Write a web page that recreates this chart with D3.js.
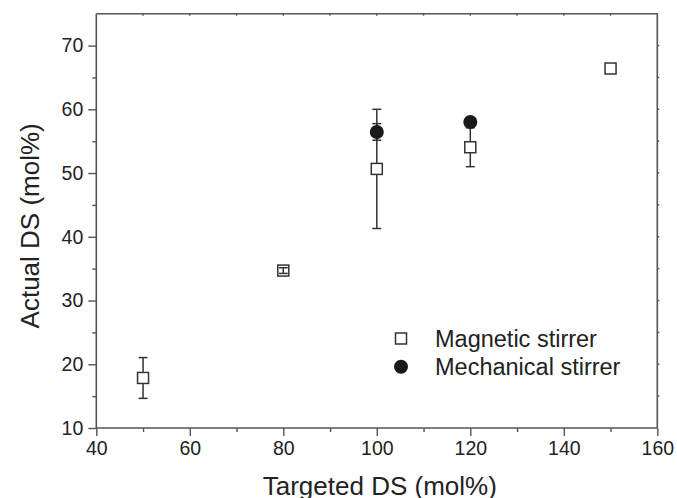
<!DOCTYPE html>
<html>
<head>
<meta charset="utf-8">
<script src="https://cdn.jsdelivr.net/npm/d3@7/dist/d3.min.js"></script>
<style>
  html, body { margin: 0; padding: 0; background: #fff; }
  svg { display: block; font-family: "Liberation Sans", Arial, sans-serif; }
</style>
</head>
<body>
<svg id="chart" width="677" height="498"></svg>
<script>
// Targeted vs. actual degree of substitution for two stirring methods
const magneticTargeted = [50, 80, 100, 120, 150];
const magneticActual   = [17.85, 34.7, 50.65, 54.05, 66.4];
const magneticError    = [3.2, 0.45, 9.35, 3.05, 0];

const mechanicalTargeted = [100, 120];
const mechanicalActual   = [56.45, 58.0];
const mechanicalError    = [1.3, 0];

const xTicks = [40, 60, 80, 100, 120, 140, 160];
const yTicks = [10, 20, 30, 40, 50, 60, 70];
const legendLabels = ["Magnetic stirrer", "Mechanical stirrer"];

const svg = d3.select("#chart");
const plotLeft = 96.3, plotRight = 657.3, plotTop = 13.7, plotBottom = 428;
const axisColor = "#555";
const inkColor = "#222";

const x = d3.scaleLinear().domain([40, 160]).range([plotLeft, plotRight]);
const y = d3.scaleLinear().domain([10, 75]).range([plotBottom, plotTop]);

// Frame (top and right edges)
svg.append("path")
  .attr("d", `M${plotLeft},${plotTop}H${plotRight}V${plotBottom}`)
  .attr("fill", "none").attr("stroke", axisColor).attr("stroke-width", 1.6);

// small mirrored ticks along top and right edges
svg.append("g").selectAll("line").data(d3.range(50, 160, 10)).join("line")
  .attr("x1", d => x(d)).attr("x2", d => x(d))
  .attr("y1", plotTop).attr("y2", plotTop + 2)
  .attr("stroke", axisColor).attr("stroke-width", 1.4);
svg.append("g").selectAll("line").data(d3.range(15, 75, 5)).join("line")
  .attr("x1", plotRight).attr("x2", plotRight + 2)
  .attr("y1", d => y(d)).attr("y2", d => y(d))
  .attr("stroke", axisColor).attr("stroke-width", 1.4);

// Bottom axis: major ticks with labels, minor ticks in between
const xAxis = svg.append("g").attr("transform", `translate(0,${plotBottom})`)
  .call(d3.axisBottom(x).tickValues(xTicks).tickSize(8).tickPadding(5).tickFormat(d3.format("d")));
const xMinor = svg.append("g").attr("transform", `translate(0,${plotBottom})`)
  .call(d3.axisBottom(x).tickValues(d3.range(50, 160, 20)).tickSize(4).tickFormat(""));

// Left axis
const yAxis = svg.append("g").attr("transform", `translate(${plotLeft},0)`)
  .call(d3.axisLeft(y).tickValues(yTicks).tickSize(8).tickPadding(5).tickFormat(d3.format("d")));
const yMinor = svg.append("g").attr("transform", `translate(${plotLeft},0)`)
  .call(d3.axisLeft(y).tickValues(d3.range(15, 75, 10)).tickSize(4).tickFormat(""));

[xAxis, xMinor, yAxis, yMinor].forEach(g => {
  g.select(".domain").attr("stroke", axisColor).attr("stroke-width", 1.6);
  g.selectAll(".tick line").attr("stroke", axisColor).attr("stroke-width", 1.4);
  g.selectAll(".tick text").attr("fill", inkColor).style("font-size", "19.5px");
});
xMinor.select(".domain").remove();
yMinor.select(".domain").remove();
xAxis.select(".domain").attr("d", `M${plotLeft},0H${plotRight}`);
yAxis.select(".domain").attr("d", `M0,${plotTop}V${plotBottom}`);

// Axis titles
svg.append("text")
  .attr("x", (plotLeft + plotRight) / 2 + 3).attr("y", 495)
  .attr("text-anchor", "middle").attr("fill", inkColor)
  .style("font-size", "26px").text("Targeted DS (mol%)");
svg.append("text")
  .attr("transform", `translate(39,${(plotTop + plotBottom) / 2 + 5}) rotate(-90)`)
  .attr("text-anchor", "middle").attr("fill", inkColor)
  .style("font-size", "26px").text("Actual DS (mol%)");

// Error bars
function errorBars(xs, ys, es) {
  const g = svg.append("g").attr("stroke", "#333").attr("stroke-width", 1.5);
  const data = xs.map((d, i) => ({ x: d, y: ys[i], e: es[i] })).filter(d => d.e > 0);
  g.selectAll("line.v").data(data).join("line")
    .attr("x1", d => x(d.x)).attr("x2", d => x(d.x))
    .attr("y1", d => y(d.y - d.e)).attr("y2", d => y(d.y + d.e));
  g.selectAll("line.cap-hi").data(data).join("line")
    .attr("x1", d => x(d.x) - 4.5).attr("x2", d => x(d.x) + 4.5)
    .attr("y1", d => y(d.y + d.e)).attr("y2", d => y(d.y + d.e));
  g.selectAll("line.cap-lo").data(data).join("line")
    .attr("x1", d => x(d.x) - 4.5).attr("x2", d => x(d.x) + 4.5)
    .attr("y1", d => y(d.y - d.e)).attr("y2", d => y(d.y - d.e));
}
errorBars(magneticTargeted, magneticActual, magneticError);
errorBars(mechanicalTargeted, mechanicalActual, mechanicalError);

const sq = 11;
// Magnetic stirrer: open squares
svg.append("g").selectAll("rect").data(magneticTargeted).join("rect")
  .attr("x", d => x(d) - sq / 2).attr("y", (d, i) => y(magneticActual[i]) - sq / 2)
  .attr("width", sq).attr("height", sq)
  .attr("fill", "#fff").attr("fill-opacity", (d, i) => magneticError[i] > 0 && magneticError[i] < 1 ? 0 : 1)
  .attr("stroke", "#333").attr("stroke-width", 1.5);

// Mechanical stirrer: filled circles
svg.append("g").selectAll("circle").data(mechanicalTargeted).join("circle")
  .attr("cx", d => x(d)).attr("cy", (d, i) => y(mechanicalActual[i]))
  .attr("r", 7).attr("fill", "#1a1a1a");

// Legend
const legend = svg.append("g");
legend.append("rect").attr("x", 401 - sq / 2).attr("y", 338.5 - sq / 2)
  .attr("width", sq).attr("height", sq)
  .attr("fill", "#fff").attr("stroke", "#333").attr("stroke-width", 1.5);
legend.append("circle").attr("cx", 401).attr("cy", 366.7).attr("r", 7).attr("fill", "#1a1a1a");
legend.selectAll("text").data(legendLabels).join("text")
  .attr("x", 435).attr("y", (d, i) => 346.5 + i * 28)
  .attr("fill", inkColor).style("font-size", "23.5px").text(d => d);
</script>
</body>
</html>
